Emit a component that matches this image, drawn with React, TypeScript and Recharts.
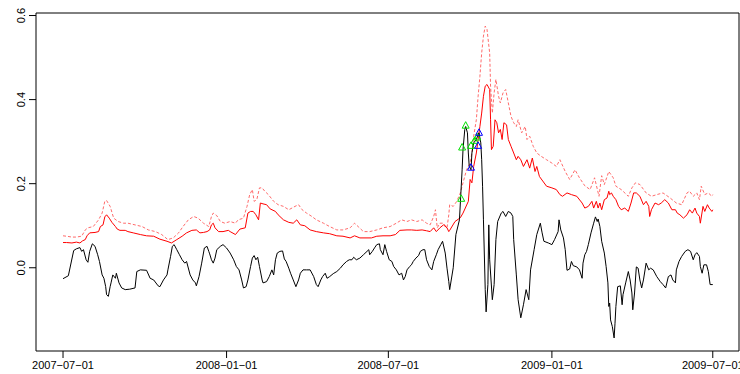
import React from "react";
import {
  ComposedChart,
  Line,
  Scatter,
  XAxis,
  YAxis,
  ReferenceArea,
} from "recharts";

// x values are days since 2007-07-01
const tickDays = [0, 184, 366, 550, 731];
const tickLabels = ["2007−07−01", "2008−01−01", "2008−07−01", "2009−01−01", "2009−07−01"];
const yTicks = [0, 0.2, 0.4, 0.6];

// black series
const blackDays = [
  0, 6, 12, 15, 19, 21, 23, 26, 28, 30, 33, 36, 39, 41, 44, 46, 48, 49, 51, 53, 54, 56, 59, 60, 63, 66, 70, 75, 81, 83,
  87, 94, 98, 102, 107, 109, 113, 117, 118, 121, 123, 125, 128, 131, 134, 137, 139, 143, 146, 149, 150, 153, 156, 159,
  162, 164, 165, 167, 169, 171, 173, 177, 180, 184, 188, 192, 195, 198, 201, 203, 206, 208, 211, 213, 215, 217, 219,
  221, 224, 225, 229, 232, 235, 237, 239, 241, 244, 247, 249, 251, 254, 256, 259, 262, 265, 267, 270, 274, 278, 282,
  285, 287, 290, 292, 295, 297, 300, 304, 308, 312, 315, 319, 322, 325, 327, 330, 334, 338, 342, 344, 345, 348, 351,
  353, 356, 357, 360, 362, 364, 367, 370, 372, 375, 378, 381, 383, 385, 387, 390, 392, 394, 397, 400, 402, 405, 407,
  409, 412, 415, 417, 420, 422, 425, 427, 430, 432, 434, 435, 439, 442, 446, 449, 450, 452, 453, 455, 456, 457, 459,
  460, 462, 465, 467, 468, 470, 471, 472, 473, 475, 476, 478, 479, 480, 483, 485, 487, 489, 493, 495, 498, 501, 504,
  506, 507, 510, 512, 515, 518, 521, 524, 526, 530, 533, 537, 539, 541, 546, 550, 553, 557, 558, 560, 563, 565, 567,
  570, 572, 574, 578, 581, 584, 585, 587, 589, 591, 594, 597, 599, 601, 602, 604, 606, 609, 611, 613, 614, 615, 616,
  618, 620, 621, 622, 624, 627, 629, 630, 633, 636, 638, 640, 641, 643, 645, 647, 649, 651, 653, 656, 659, 661, 664,
  668, 672, 675, 678, 681, 684, 686, 689, 690, 693, 696, 700, 703, 706, 709, 711, 713, 716, 717, 719, 721, 724, 726,
  728, 731,
];
const blackVals = [
  -0.026, -0.019, 0.041, 0.045, 0.048, 0.039, 0.043, 0.019, 0.013, 0.039, 0.057, 0.051, 0.031, 0.015, -0.017, -0.025,
  -0.045, -0.064, -0.068, -0.045, -0.036, -0.017, -0.025, -0.013, -0.036, -0.048, -0.052, -0.051, -0.048, -0.009,
  -0.005, -0.006, -0.025, -0.029, -0.043, -0.045, -0.029, -0.017, -0.005, 0.027, 0.051, 0.055, 0.043, 0.031, 0.019,
  0.011, 0.015, -0.017, -0.029, -0.036, -0.043, -0.021, 0.011, 0.047, 0.051, 0.039, 0.033, 0.019, 0.011, 0.023, 0.043,
  0.051, 0.055, 0.047, 0.035, 0.019, 0.003, -0.005, -0.029, -0.048, -0.045, -0.029, 0.003, 0.023, 0.029, 0.019, 0.025,
  0.003, -0.029, -0.036, -0.033, -0.021, -0.005, -0.017, 0.019, 0.035, 0.039, 0.04, 0.021, 0.015, -0.001, -0.013,
  -0.029, -0.045, -0.029, -0.013, -0.005, -0.005, -0.005, -0.021, -0.04, -0.045, -0.029, -0.021, -0.013, -0.025,
  -0.021, -0.014, -0.009, -0.001, 0.007, 0.015, 0.019, 0.019, 0.025, 0.019, 0.023, 0.031, 0.039, 0.043, 0.031, 0.039,
  0.049, 0.055, 0.057, 0.043, 0.031, 0.055, 0.039, 0.019, 0.015, 0.003, -0.005, -0.017, -0.013, -0.029, -0.021, -0.005,
  0.003, 0.007, 0.015, 0.023, 0.029, 0.039, 0.043, 0.043, 0.019, 0.003, -0.005, 0.015, 0.031, 0.043, 0.055, 0.063,
  0.035, -0.001, -0.033, -0.052, 0.0, 0.079, 0.114, 0.233, 0.281, 0.329, 0.336, 0.321, 0.273, 0.241, 0.233, 0.273,
  0.297, 0.305, 0.317, 0.321, 0.297, 0.257, 0.194, 0.114, -0.052, -0.105, -0.04, 0.102, 0.019, -0.076, -0.04, 0.067,
  0.11, 0.13, 0.134, 0.122, 0.134, 0.13, 0.122, 0.067, -0.017, -0.076, -0.119, -0.088, -0.052, -0.076, -0.005, 0.043,
  0.079, 0.106, 0.083, 0.063, 0.059, 0.055, 0.067, 0.086, 0.114, 0.09, 0.071, 0.043, -0.006, -0.003, 0.015, 0.005,
  0.002, -0.005, -0.025, 0.011, 0.031, 0.039, 0.055, 0.083, 0.106, 0.121, 0.11, 0.116, 0.098, 0.063, 0.035, 0.003,
  -0.036, -0.092, -0.084, -0.124, -0.14, -0.167, -0.132, -0.092, -0.045, -0.043, -0.088, -0.064, -0.036, -0.009,
  -0.029, -0.06, -0.1, -0.06, 0.002, -0.001, -0.029, -0.048, -0.029, 0.011, -0.005, -0.001, -0.005, -0.021, -0.033,
  -0.04, -0.048, -0.021, -0.017, -0.029, -0.036, -0.005, 0.015, 0.027, 0.039, 0.043, 0.039, 0.019, 0.031, 0.036, 0.027,
  0.003, -0.013, 0.007, 0.007, -0.009, -0.04, -0.04,
];

// red solid series
const redDays = [
  0, 4, 10, 15, 19, 22, 25, 27, 30, 36, 40, 42, 45, 47, 49, 52, 55, 59, 61, 64, 70, 73, 79, 87, 94, 102, 109, 117, 122,
  128, 134, 139, 145, 150, 154, 158, 162, 165, 167, 169, 171, 175, 180, 186, 188, 194, 199, 205, 208, 211, 214, 217,
  220, 222, 225, 229, 233, 239, 242, 248, 254, 259, 263, 267, 272, 278, 285, 293, 300, 308, 315, 323, 328, 334, 342,
  347, 353, 360, 368, 374, 379, 387, 392, 398, 404, 409, 413, 417, 420, 424, 428, 432, 434, 435, 441, 447, 450, 456,
  458, 460, 462, 465, 467, 469, 471, 473, 475, 477, 480, 481, 482, 484, 486, 488, 490, 492, 494, 496, 499, 501, 504,
  507, 510, 512, 515, 518, 522, 525, 528, 531, 533, 536, 544, 550, 555, 559, 562, 567, 572, 578, 584, 587, 591, 595,
  597, 600, 602, 604, 606, 609, 612, 614, 615, 617, 619, 622, 625, 628, 632, 636, 639, 642, 645, 649, 653, 656, 659,
  660, 662, 666, 670, 673, 677, 681, 685, 689, 691, 694, 698, 702, 705, 708, 711, 713, 716, 717, 720, 722, 725, 727,
  730, 731,
];
const redVals = [
  0.06, 0.06, 0.059, 0.061, 0.059, 0.064, 0.067, 0.076, 0.083, 0.084, 0.086, 0.098, 0.102, 0.121, 0.126, 0.118, 0.108,
  0.098, 0.092, 0.089, 0.089, 0.086, 0.083, 0.079, 0.076, 0.075, 0.068, 0.063, 0.059, 0.067, 0.075, 0.083, 0.089, 0.09,
  0.083, 0.084, 0.086, 0.09, 0.102, 0.106, 0.095, 0.086, 0.086, 0.089, 0.086, 0.079, 0.092, 0.095, 0.13, 0.134, 0.134,
  0.126, 0.114, 0.154, 0.152, 0.15, 0.14, 0.134, 0.126, 0.114, 0.108, 0.106, 0.114, 0.102, 0.1, 0.09, 0.086, 0.083,
  0.081, 0.076, 0.075, 0.071, 0.076, 0.071, 0.071, 0.071, 0.075, 0.076, 0.076, 0.079, 0.089, 0.09, 0.09, 0.089, 0.09,
  0.088, 0.086, 0.095, 0.086, 0.095, 0.102, 0.095, 0.086, 0.089, 0.11, 0.119, 0.13, 0.158, 0.21, 0.202, 0.241, 0.273,
  0.305, 0.336, 0.368, 0.408, 0.432, 0.436, 0.424, 0.352, 0.281, 0.289, 0.352, 0.345, 0.321, 0.329, 0.305, 0.345,
  0.34, 0.305, 0.289, 0.273, 0.257, 0.265, 0.257, 0.241, 0.257, 0.237, 0.261, 0.229, 0.241, 0.217, 0.194, 0.19, 0.186,
  0.174, 0.17, 0.178, 0.174, 0.17, 0.154, 0.142, 0.146, 0.158, 0.142, 0.158, 0.142, 0.154, 0.138, 0.162, 0.166, 0.182,
  0.174, 0.178, 0.17, 0.162, 0.146, 0.138, 0.142, 0.134, 0.154, 0.178, 0.178, 0.17, 0.15, 0.158, 0.146, 0.122, 0.138,
  0.154, 0.15, 0.154, 0.162, 0.154, 0.138, 0.138, 0.13, 0.126, 0.118, 0.126, 0.138, 0.13, 0.142, 0.13, 0.122, 0.106,
  0.146, 0.134, 0.15, 0.142, 0.134, 0.138,
];

// red dotted series
const dotDays = [
  0, 4, 10, 15, 21, 25, 28, 34, 40, 44, 47, 49, 53, 57, 62, 68, 73, 81, 89, 96, 104, 111, 118, 124, 130, 135, 141, 147,
  152, 158, 164, 167, 169, 173, 177, 182, 188, 194, 197, 203, 207, 210, 213, 215, 218, 221, 224, 227, 231, 237, 242,
  248, 254, 261, 265, 269, 274, 280, 285, 293, 300, 308, 315, 323, 328, 332, 338, 345, 353, 360, 368, 375, 381, 387,
  392, 398, 404, 409, 413, 417, 419, 421, 424, 428, 432, 434, 435, 439, 443, 447, 450, 454, 458, 460, 462, 465, 467,
  469, 471, 473, 475, 477, 480, 481, 483, 485, 487, 490, 492, 495, 498, 501, 504, 507, 510, 512, 516, 520, 522, 525,
  529, 533, 538, 544, 550, 555, 559, 565, 570, 576, 581, 587, 593, 598, 603, 606, 609, 614, 619, 622, 628, 636, 640,
  644, 649, 656, 662, 668, 675, 683, 690, 696, 702, 705, 709, 713, 716, 718, 722, 726, 730, 731,
];
const dotVals = [
  0.076, 0.075, 0.073, 0.073, 0.075, 0.09, 0.095, 0.098, 0.114, 0.13, 0.158, 0.16, 0.146, 0.118, 0.11, 0.106, 0.106,
  0.102, 0.098, 0.09, 0.086, 0.079, 0.067, 0.071, 0.083, 0.098, 0.114, 0.122, 0.118, 0.106, 0.098, 0.122, 0.13, 0.124,
  0.11, 0.106, 0.11, 0.106, 0.114, 0.118, 0.146, 0.174, 0.186, 0.158, 0.162, 0.19, 0.19, 0.182, 0.174, 0.158, 0.15,
  0.146, 0.138, 0.146, 0.15, 0.138, 0.13, 0.122, 0.114, 0.106, 0.098, 0.09, 0.09, 0.095, 0.106, 0.098, 0.086, 0.086,
  0.09, 0.095, 0.098, 0.106, 0.114, 0.11, 0.114, 0.11, 0.114, 0.106, 0.102, 0.122, 0.138, 0.095, 0.106, 0.106, 0.095,
  0.126, 0.15, 0.146, 0.158, 0.178, 0.202, 0.233, 0.249, 0.273, 0.313, 0.352, 0.408, 0.455, 0.511, 0.551, 0.575,
  0.567, 0.511, 0.432, 0.368, 0.416, 0.448, 0.408, 0.392, 0.416, 0.424, 0.392, 0.36, 0.345, 0.336, 0.352, 0.321,
  0.336, 0.305, 0.313, 0.289, 0.273, 0.265, 0.257, 0.249, 0.241, 0.257, 0.229, 0.21, 0.233, 0.214, 0.195, 0.186,
  0.214, 0.17, 0.219, 0.198, 0.229, 0.214, 0.194, 0.186, 0.17, 0.19, 0.202, 0.198, 0.178, 0.17, 0.174, 0.178, 0.166,
  0.154, 0.15, 0.178, 0.182, 0.17, 0.178, 0.162, 0.194, 0.174, 0.178, 0.17, 0.174,
];

// flagged points
const greenDays = [448, 449, 453, 459, 463, 466];
const greenVals = [0.164, 0.286, 0.338, 0.29, 0.302, 0.31];
const blueDays = [459, 467, 468];
const blueVals = [0.238, 0.29, 0.321];

const toPoints = (days: number[], vals: number[]) => days.map((d, i) => ({ day: d, v: vals[i] }));

const blackData = toPoints(blackDays, blackVals);
const redData = toPoints(redDays, redVals);
const dotData = toPoints(dotDays, dotVals);
const greenData = toPoints(greenDays, greenVals);
const blueData = toPoints(blueDays, blueVals);

const xDomain = [-30.4, 760.5];
const yDomain = [-0.198, 0.606];
const font = "'Liberation Sans', Arial, Helvetica, sans-serif";

const XTick = (props: any) => {
  const { x, y, payload } = props;
  const idx = tickDays.indexOf(payload.value);
  return (
    <text x={x} y={y + 11} textAnchor="middle" fontSize={11} fontFamily={font} fill="#000">
      {tickLabels[idx]}
    </text>
  );
};

const YTick = (props: any) => {
  const { x, y, payload } = props;
  const bx = x - 4;
  return (
    <text
      x={bx}
      y={y}
      transform={`rotate(-90, ${bx}, ${y})`}
      textAnchor="middle"
      fontSize={11}
      fontFamily={font}
      fill="#000"
    >
      {payload.value.toFixed(1)}
    </text>
  );
};

const triangle = (color: string) => (props: any) => {
  const { cx, cy } = props;
  return (
    <polygon
      points={`${cx},${cy - 4} ${cx - 3.5},${cy + 2.5} ${cx + 3.5},${cy + 2.5}`}
      fill="none"
      stroke={color}
      strokeWidth={1}
    />
  );
};

export default function App() {
  return (
    <div style={{ position: "absolute", left: 0, top: 0 }}>
      <ComposedChart width={740} height={374} margin={{ top: 13, right: 1, bottom: 0, left: 0 }}>
        <XAxis
          dataKey="day"
          type="number"
          domain={xDomain}
          ticks={tickDays}
          interval={0}
          axisLine={false}
          tickLine={{ stroke: "#000" }}
          tickSize={7}
          tickMargin={0}
          height={23}
          tick={<XTick />}
        />
        <YAxis
          type="number"
          domain={yDomain}
          ticks={yTicks}
          interval={0}
          axisLine={false}
          tickLine={{ stroke: "#000" }}
          tickSize={7}
          tickMargin={0}
          width={36}
          tick={<YTick />}
        />
        <Line
          data={dotData}
          dataKey="v"
          type="linear"
          stroke="#ff6b6b"
          strokeWidth={1}
          strokeDasharray="3 2"
          dot={false}
          isAnimationActive={false}
        />
        <Line
          data={redData}
          dataKey="v"
          type="linear"
          stroke="#ff0000"
          strokeWidth={1}
          dot={false}
          isAnimationActive={false}
        />
        <Line
          data={blackData}
          dataKey="v"
          type="linear"
          stroke="#000"
          strokeWidth={1}
          dot={false}
          isAnimationActive={false}
        />
        <Scatter data={greenData} dataKey="v" shape={triangle("#00e000")} isAnimationActive={false} />
        <Scatter data={blueData} dataKey="v" shape={triangle("#0000ff")} isAnimationActive={false} />
        <ReferenceArea
          x1={xDomain[0]}
          x2={xDomain[1]}
          y1={yDomain[0]}
          y2={yDomain[1]}
          fill="none"
          stroke="#000"
          strokeWidth={1}
        />
      </ComposedChart>
    </div>
  );
}
